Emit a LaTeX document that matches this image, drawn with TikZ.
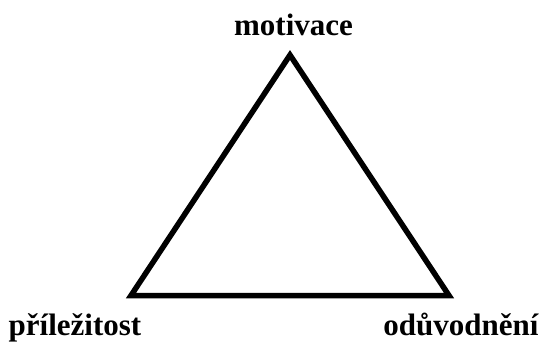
\documentclass[tikz,border=0pt]{standalone}
\usepackage{fontspec}
\setmainfont{Liberation Serif}
\begin{document}
\begin{tikzpicture}[x=1pt,y=-1pt,
  lbl/.style={font=\fontsize{31}{36}\selectfont\bfseries, inner sep=0pt, anchor=base},
  edge/.style={line width=5.5pt, line join=miter}]
\useasboundingbox (0,0) rectangle (542,343);
\coordinate (top) at (290,55);
\coordinate (bl) at (131,295.5);
\coordinate (br) at (449,295.5);
\draw[edge] (top) -- (bl) -- (br) -- cycle;
\node[lbl] (m) at (293.5,35) {motivace};
\node[lbl] (p) at (75,335.5) {příležitost};
\node[lbl] (o) at (461,335.5) {odůvodnění};
\end{tikzpicture}
\end{document}
